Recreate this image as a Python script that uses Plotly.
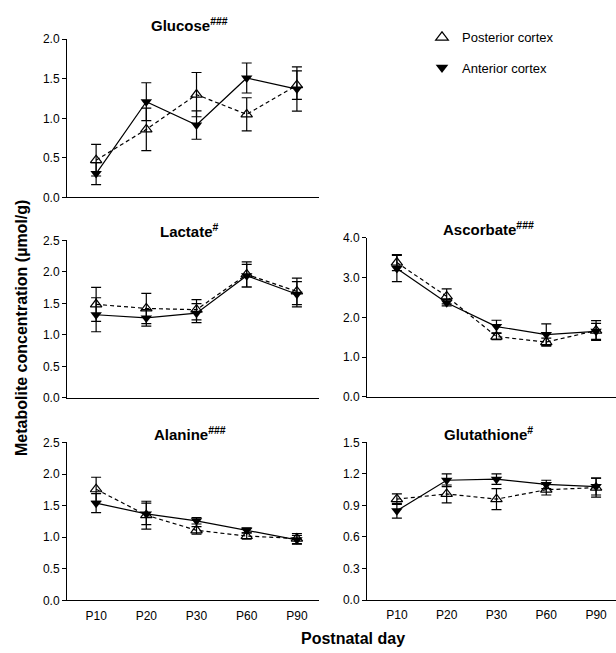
import plotly.graph_objects as go

days = ["P10", "P20", "P30", "P60", "P90"]

glucose_post = [0.47, 0.86, 1.30, 1.05, 1.42]
glucose_post_err = [0.20, 0.27, 0.28, 0.21, 0.18]
glucose_ant = [0.30, 1.21, 0.915, 1.51, 1.37]
glucose_ant_err = [0.14, 0.24, 0.18, 0.19, 0.28]

lactate_post = [1.485, 1.42, 1.40, 1.96, 1.69]
lactate_post_err = [0.27, 0.24, 0.16, 0.20, 0.21]
lactate_ant = [1.32, 1.27, 1.345, 1.94, 1.645]
lactate_ant_err = [0.27, 0.13, 0.15, 0.18, 0.20]

ascorbate_post = [3.38, 2.53, 1.52, 1.38, 1.67]
ascorbate_post_err = [0.20, 0.19, 0.08, 0.10, 0.25]
ascorbate_ant = [3.23, 2.37, 1.77, 1.57, 1.65]
ascorbate_ant_err = [0.33, 0.08, 0.16, 0.27, 0.20]

alanine_post = [1.76, 1.35, 1.11, 1.02, 0.98]
alanine_post_err = [0.19, 0.22, 0.06, 0.05, 0.08]
alanine_ant = [1.54, 1.37, 1.26, 1.11, 0.96]
alanine_ant_err = [0.15, 0.17, 0.05, 0.04, 0.07]

glutathione_post = [0.96, 1.01, 0.96, 1.05, 1.07]
glutathione_post_err = [0.05, 0.085, 0.10, 0.05, 0.09]
glutathione_ant = [0.85, 1.14, 1.15, 1.10, 1.08]
glutathione_ant_err = [0.07, 0.06, 0.05, 0.04, 0.08]

W, H = 616, 653
FONT = "Arial, Liberation Sans, sans-serif"

panels = [
    # name, sup, post, post_err, ant, ant_err, ymax, dtick, side, (px top, bottom), show x labels
    ("Glucose", "###", glucose_post, glucose_post_err, glucose_ant, glucose_ant_err, 2.0, 0.5, "L", (33, 194.5), False),
    ("Lactate", "#", lactate_post, lactate_post_err, lactate_ant, lactate_ant_err, 2.5, 0.5, "L", (238.5, 399.5), False),
    ("Ascorbate", "###", ascorbate_post, ascorbate_post_err, ascorbate_ant, ascorbate_ant_err, 4.0, 1.0, "R", (236, 398.5), False),
    ("Alanine", "###", alanine_post, alanine_post_err, alanine_ant, alanine_ant_err, 2.5, 0.5, "L", (445, 606.5), True),
    ("Glutathione", "#", glutathione_post, glutathione_post_err, glutathione_ant, glutathione_ant_err, 1.5, 0.3, "R", (445, 606), True),
]
title_y = {"Glucose": 18, "Lactate": 228, "Ascorbate": 226, "Alanine": 436, "Glutathione": 436}

xdoms = {"L": (67, 319), "R": (367, 616)}
xranges = {"L": [-0.58, 4.44], "R": [-0.6, 4.4]}

fig = go.Figure()
layout = dict(
    width=W, height=H,
    margin=dict(l=0, r=0, t=0, b=0),
    plot_bgcolor="white", paper_bgcolor="white",
    font=dict(family=FONT, size=12, color="black"),
    showlegend=True,
)
annotations = []

for i, (name, sup, post, perr, ant, aerr, ymax, dtick, side, (ptop, pbot), showx) in enumerate(panels):
    n = i + 1
    xa = "x" if n == 1 else f"x{n}"
    ya = "y" if n == 1 else f"y{n}"
    xkey = "xaxis" if n == 1 else f"xaxis{n}"
    ykey = "yaxis" if n == 1 else f"yaxis{n}"
    x0, x1 = xdoms[side]
    layout[xkey] = dict(
        domain=[x0 / W, min(x1 / W, 1.0)], anchor=ya, type="category",
        categoryorder="array", categoryarray=days,
        range=xranges[side], showline=True, linecolor="black", linewidth=1,
        ticks="", showgrid=False, zeroline=False, showticklabels=showx,
        tickfont=dict(size=12, family=FONT), ticklabelstandoff=4,
    )
    layout[ykey] = dict(
        domain=[1 - pbot / H, 1 - ptop / H], anchor=xa,
        range=[0, ymax], dtick=dtick, tick0=0, tickformat=".1f",
        showline=True, linecolor="black", linewidth=1,
        ticks="outside", ticklen=4, tickwidth=1, tickcolor="black",
        showgrid=False, zeroline=False,
        tickfont=dict(size=12, family=FONT),
    )
    fig.add_trace(go.Scatter(
        x=days, y=post, xaxis=xa, yaxis=ya, mode="lines+markers",
        line=dict(color="black", width=1.2, dash="4px,3px"),
        marker=dict(symbol="triangle-up-open", size=10, color="black", line=dict(width=1.2, color="black")),
        error_y=dict(type="data", array=perr, color="black", thickness=1.2, width=5),
        showlegend=False, cliponaxis=False,
    ))
    fig.add_trace(go.Scatter(
        x=days, y=ant, xaxis=xa, yaxis=ya, mode="lines+markers",
        line=dict(color="black", width=1.2),
        marker=dict(symbol="triangle-down", size=10, color="black"),
        error_y=dict(type="data", array=aerr, color="black", thickness=1.2, width=5),
        showlegend=False, cliponaxis=False,
    ))
    cx = (x0 + min(x1, 616)) / 2 / W
    annotations.append(dict(
        text=f"<b>{name}<sup>{sup}</sup></b>", x=cx - 0.005, y=1 - title_y[name] / H,
        xref="paper", yref="paper", xanchor="center", yanchor="middle",
        showarrow=False, font=dict(size=15, family=FONT),
    ))

# legend entries (marker only)
fig.add_trace(go.Scatter(
    x=[None], y=[None], mode="markers", name="Posterior cortex",
    marker=dict(symbol="triangle-up-open", size=11, color="black", line=dict(width=1.2, color="black")),
    legend="legend",
))
fig.add_trace(go.Scatter(
    x=[None], y=[None], mode="markers", name="Anterior cortex",
    marker=dict(symbol="triangle-down", size=11, color="black"),
    legend="legend2",
))
legend_common = dict(xanchor="left", yanchor="middle", bgcolor="rgba(0,0,0,0)",
                     font=dict(size=13, family=FONT), itemwidth=30)
layout["legend"] = dict(x=422 / W, y=1 - 31 / H, **legend_common)
layout["legend2"] = dict(x=422 / W, y=1 - 62 / H, **legend_common)

annotations.append(dict(
    text="<b>Metabolite concentration (µmol/g)</b>", x=22 / W, y=1 - 328 / H,
    xref="paper", yref="paper", xanchor="center", yanchor="middle", textangle=-90,
    showarrow=False, font=dict(size=16, family=FONT),
))
annotations.append(dict(
    text="<b>Postnatal day</b>", x=353 / W, y=0, yshift=-3,
    xref="paper", yref="paper", xanchor="center", yanchor="bottom",
    showarrow=False, font=dict(size=16, family=FONT),
))
layout["annotations"] = annotations
fig.update_layout(**layout)
fig.write_html(
    "out.html",
    config={"displayModeBar": False},
    post_script="document.body.style.margin='0';document.body.style.padding='0';document.body.style.overflow='hidden';",
)
